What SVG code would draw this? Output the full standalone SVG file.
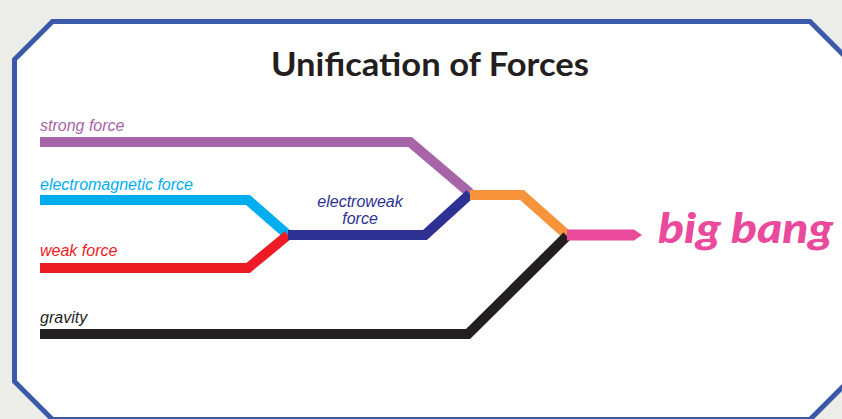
<svg xmlns="http://www.w3.org/2000/svg" width="842" height="419" viewBox="0 0 842 419">
  <style>
    .line { fill: none; stroke-width: 10; stroke-linejoin: miter; stroke-linecap: butt; }
    .lbl { font-family: "Liberation Sans", Arial, sans-serif; font-style: italic; font-size: 16px; }
  </style>
  <rect x="0" y="0" width="842" height="419" fill="#ecece8"/>
  <g id="frame">
    <polygon points="52.5,21.5 810,21.5 848,59.5 848,381.5 810,419.5 52.5,419.5 14.5,381.5 14.5,59.5" fill="#ffffff" stroke="#3a5aa9" stroke-width="5"/>
  </g>
  <g id="title">
    <text x="430" y="76" text-anchor="middle" font-family="Lato, 'Open Sans', sans-serif" font-weight="bold" font-size="32" fill="#231f20" textLength="318" lengthAdjust="spacingAndGlyphs">Unification of Forces</text>
  </g>
  <g id="connectors">
    <polyline class="line" stroke="#a864a8" points="40,142 410,142 470,193"/>
    <polyline class="line" stroke="#00aeef" points="40,200 248,200 288,235"/>
    <polyline class="line" stroke="#ed1c24" points="40,268 248,268 288,235"/>
    <polyline class="line" stroke="#2e3192" points="288,235 425,235 470,194"/>
    <polyline class="line" stroke="#f7943b" points="470,195 522,195 567,235"/>
    <polyline class="line" stroke="#231f20" points="40,334 468,334 567,236"/>
    <polygon fill="#ea4a9b" points="567,229.5 634,229.5 642,235 634,240.5 567,240.5"/>
  </g>
  <g id="strong-force"><text class="lbl" x="40" y="131" fill="#a864a8">strong force</text></g>
  <g id="electromagnetic-force"><text class="lbl" x="40" y="190" fill="#00aeef">electromagnetic force</text></g>
  <g id="weak-force"><text class="lbl" x="40" y="256" fill="#ed1c24">weak force</text></g>
  <g id="gravity"><text class="lbl" x="40" y="323" fill="#231f20">gravity</text></g>
  <g id="electroweak-force">
    <text class="lbl" x="360" y="207" text-anchor="middle" fill="#2e3192">electroweak</text>
    <text class="lbl" x="360" y="224" text-anchor="middle" fill="#2e3192">force</text>
  </g>
  <g id="big-bang">
    <text x="658" y="243" font-family="Lato, 'Open Sans', sans-serif" font-weight="900" font-style="italic" font-size="42" fill="#ea4a9b" textLength="175" lengthAdjust="spacingAndGlyphs">big bang</text>
  </g>
</svg>
